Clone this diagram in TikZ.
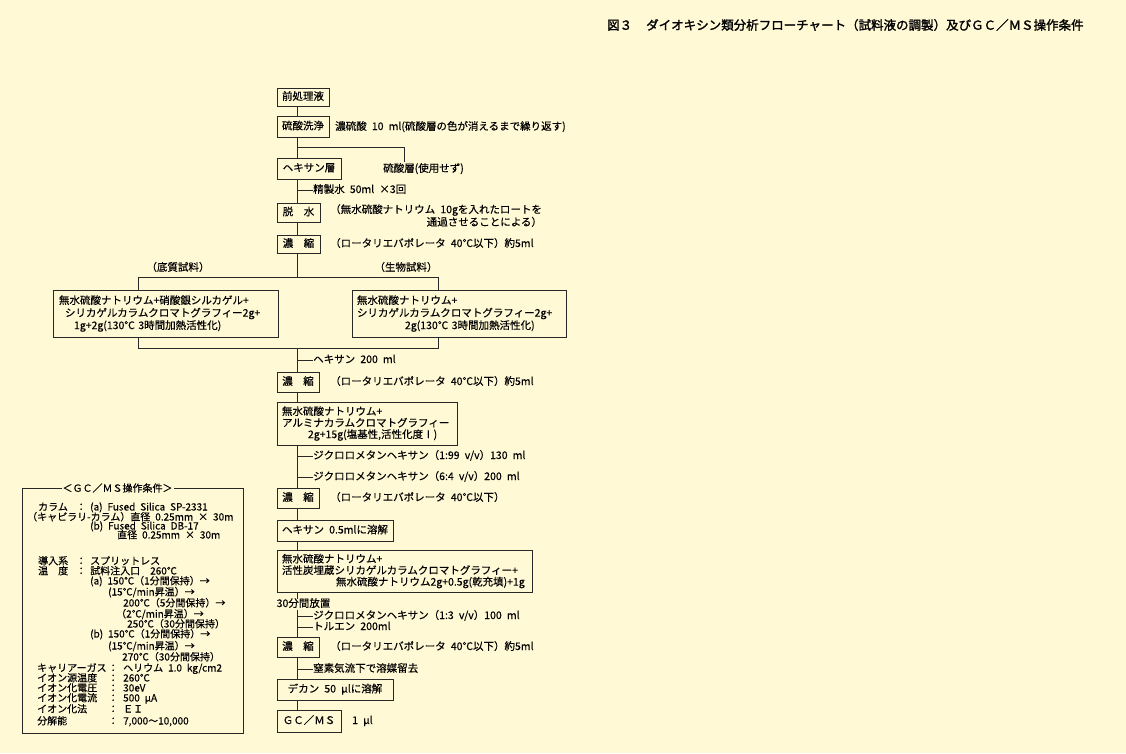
\documentclass[tikz,border=0pt]{standalone}
\usepackage{fontspec}
\setmainfont[WordSpace=2.2, FakeBold=0.3]{Noto Sans CJK JP}
\newfontfamily\titlefont[FakeBold=1.6]{Noto Sans CJK JP}
\definecolor{bg}{RGB}{255,249,214}
\definecolor{lc}{RGB}{40,40,40}
\newcommand{\fsm}{\fontsize{10.5}{11.5}\selectfont}
\newcommand{\fsg}{\fontsize{10}{10}\selectfont}
\newcommand{\fst}{\titlefont\fontsize{12.5}{13}\selectfont}
\tikzset{
 ln/.style={draw=lc, line width=0.8pt},
 bx/.style={draw=lc, line width=0.8pt, inner sep=0pt, font=\fsm, text height=8pt, text depth=2pt},
 mbx/.style={draw=lc, line width=0.8pt, inner sep=0pt, align=left},
 lbl/.style={inner sep=0pt, font=\fsm, anchor=west, text height=8pt, text depth=2pt},
 glbl/.style={inner sep=0pt, font=\fsg, anchor=west, text height=7pt, text depth=2pt},
}
\begin{document}
\begin{tikzpicture}[x=1pt,y=-1pt]
\fill[bg] (0,0) rectangle (1126,753);
\useasboundingbox (0,0) rectangle (1126,753);

% title
\node[anchor=west, inner sep=0pt, font=\fst] (title) at (607,25) {図３\hspace{14pt}ダイオキシン類分析フローチャート（試料液の調製）及びＧＣ／ＭＳ操作条件};

% main column reference
\coordinate (mx) at (297.5,0);

% boxes
\node[bx, minimum width=52pt, minimum height=18pt] (pre) at (303,97) {前処理液};
\node[bx, minimum width=52pt, minimum height=21pt] (sen) at (303,126.5) {硫酸洗浄};
\node[bx, minimum width=64pt, minimum height=21pt] (hex) at (309,168.5) {ヘキサン層};
\node[bx, minimum width=43pt, minimum height=19pt] (dehyd) at (298.5,212.5) {脱　水};
\node[bx, minimum width=43pt, minimum height=18pt] (conc1) at (298.5,244) {濃　縮};

\node[mbx, font=\fontsize{10.5}{12.5}\selectfont, minimum width=225pt, text width=225pt, minimum height=47pt] (L) at (165.5,313.5)
 {\hspace*{6pt}無水硫酸ナトリウム+硝酸銀シルカゲル+\\\hspace*{12pt}シリカゲルカラムクロマトグラフィー2g+\\\hspace*{21pt}1g+2g(130℃ 3時間加熱活性化)};
\node[mbx, font=\fontsize{10.5}{12.5}\selectfont, minimum width=214pt, text width=214pt, minimum height=47pt] (R) at (459,313.5)
 {\hspace*{5pt}無水硫酸ナトリウム+\\\hspace*{5pt}シリカゲルカラムクロマトグラフィー2g+\\\hspace*{53pt}2g(130℃ 3時間加熱活性化)};

\node[bx, minimum width=42pt, minimum height=20pt] (conc2) at (298,382) {濃　縮};
\node[mbx, font=\fontsize{10.5}{11.5}\selectfont, minimum width=180pt, text width=180pt, minimum height=43pt] (alum) at (367,423.5)
 {\hspace*{5pt}無水硫酸ナトリウム+\\\hspace*{5pt}アルミナカラムクロマトグラフィー\\\hspace*{31pt}2g+15g(塩基性,活性化度Ⅰ)};
\node[bx, minimum width=42pt, minimum height=20pt] (conc3) at (298,498) {濃　縮};
\node[bx, minimum width=116pt, minimum height=21pt] (hex05) at (335,530.5) {ヘキサン 0.5mlに溶解};
\node[mbx, font=\fontsize{10.5}{11.5}\selectfont, minimum width=255pt, text width=255pt, minimum height=42pt] (carbon) at (404.5,571)
 {\hspace*{5pt}無水硫酸ナトリウム+\\\hspace*{5pt}活性炭埋蔵シリカゲルカラムクロマトグラフィー+\\\hspace*{59pt}無水硫酸ナトリウム2g+0.5g(乾充填)+1g};
\node[bx, minimum width=42pt, minimum height=20pt] (conc4) at (298,647) {濃　縮};
\node[bx, minimum width=116pt, minimum height=21pt] (decane) at (335,689.5) {デカン 50 μlに溶解};
\node[bx, minimum width=64pt, minimum height=22pt] (gcms) at (309,721) {ＧＣ／ＭＳ};

% main connectors
\draw[ln] (pre.south -| mx) -- (sen.north -| mx);
\draw[ln] (sen.south -| mx) -- (hex.north -| mx);
\coordinate (sby) at (0,147);
\coordinate (sb) at (404,162);
\draw[ln] (sby -| mx) -| (sb);
\draw[ln] (hex.south -| mx) -- (dehyd.north -| mx);
\draw[ln] (dehyd.south -| mx) -- (conc1.north -| mx);

\coordinate (bt) at (297.5,277);
\coordinate (bb) at (297.5,348.5);
\coordinate (lx) at (138.5,0);
\coordinate (rx) at (438,0);
\draw[ln] (conc1.south -| mx) -- (bt);
\draw[ln] (L.north -| lx) |- (bt -| rx) -- (R.north -| rx);
\draw[ln] (L.south -| lx) |- (bb -| rx) -- (R.south -| rx);
\draw[ln] (bb) -- (conc2.north -| mx);
\draw[ln] (conc2.south -| mx) -- (alum.north -| mx);
\draw[ln] (alum.south -| mx) -- (conc3.north -| mx);
\draw[ln] (conc3.south -| mx) -- (hex05.north -| mx);
\draw[ln] (hex05.south -| mx) -- (carbon.north -| mx);
\draw[ln] (carbon.south -| mx) -- (conc4.north -| mx);
\draw[ln] (conc4.south -| mx) -- (decane.north -| mx);
\draw[ln] (decane.south -| mx) -- (gcms.north -| mx);

% side texts
\node[lbl] (t1) at (335,127) {濃硫酸 10 ml(硫酸層の色が消えるまで繰り返す)};
\node[lbl] (t2) at (383,169) {硫酸層(使用せず)};
\node[lbl] (t3) at (313,190) {精製水 50ml ×3回};
\draw[ln] (t3.west -| mx) -- (t3.west);
\node[inner sep=0pt, anchor=north west, align=right, font=\fontsize{10.5}{11}\selectfont] (t4) at (330,204)
 {（無水硫酸ナトリウム 10gを入れたロートを\\通過させることによる）};
\node[lbl] (t5) at (330,244) {（ロータリエバポレータ 40℃以下）約5ml};
\node[inner sep=0pt, font=\fsm] (sl) at (178,267) {（底質試料）};
\node[inner sep=0pt, font=\fsm] (sr) at (406,267) {（生物試料）};
\node[lbl] (t6) at (313,360) {ヘキサン 200 ml};
\draw[ln] (t6.west -| mx) -- (t6.west);
\node[lbl] (t7) at (330,382) {（ロータリエバポレータ 40℃以下）約5ml};
\node[lbl] (t8) at (313,456) {ジクロロメタンヘキサン（1:99 v/v）130 ml};
\draw[ln] (t8.west -| mx) -- (t8.west);
\node[lbl] (t9) at (313,477) {ジクロロメタンヘキサン（6:4 v/v）200 ml};
\draw[ln] (t9.west -| mx) -- (t9.west);
\node[lbl] (t10) at (330,498) {（ロータリエバポレータ 40℃以下）};
\node[lbl, fill=bg, inner sep=0.5pt] (t30) at (276,604) {30分間放置};
\node[lbl] (t11) at (313,616) {ジクロロメタンヘキサン（1:3 v/v）100 ml};
\draw[ln] (t11.west -| mx) -- (t11.west);
\node[lbl] (t12) at (313,627) {トルエン 200ml};
\draw[ln] (t12.west -| mx) -- (t12.west);
\node[lbl] (t13) at (330,647) {（ロータリエバポレータ 40℃以下）約5ml};
\node[lbl] (t14) at (313,669) {窒素気流下で溶媒留去};
\draw[ln] (t14.west -| mx) -- (t14.west);
\node[lbl] (t15) at (352,721) {1 μl};

% GC/MS conditions box
\node[draw=lc, line width=0.8pt, inner sep=0pt, minimum width=221pt, minimum height=245pt] (gcbox) at (132.5,610.5) {};
\node[inner sep=1pt, fill=bg, font=\fontsize{10}{10}\selectfont] (gct) at (117.5,488) {＜ＧＣ／ＭＳ操作条件＞};
\node[glbl] (g1) at (38,508) {\makebox[38pt][l]{カラム}\makebox[14pt][l]{：}(a) Fused Silica SP-2331};
\node[glbl] (g2) at (27,518) {（キャピラリ-カラム）直径 0.25mm × 30m};
\node[glbl] (g3) at (90,527) {(b) Fused Silica DB-17};
\node[glbl] (g4) at (117,536) {直径 0.25mm × 30m};
\node[glbl] (g5) at (38,562) {\makebox[38pt][l]{導入系}\makebox[14pt][l]{：}スプリットレス};
\node[glbl] (g6) at (38,572) {\makebox[38pt][l]{温\hspace{10pt}度}\makebox[14pt][l]{：}試料注入口　260℃};
\node[glbl] (g7) at (90,582) {(a) 150℃（1分間保持）→};
\node[glbl] (g8) at (108,593) {(15℃/min昇温）→};
\node[glbl] (g9) at (123,604) {200℃（5分間保持）→};
\node[glbl] (g10) at (116,615) {（2℃/min昇温）→};
\node[glbl] (g11) at (127,625) {250℃（30分間保持）};
\node[glbl] (g12) at (90,635) {(b) 150℃（1分間保持）→};
\node[glbl] (g13) at (108,647) {(15℃/min昇温）→};
\node[glbl] (g14) at (122,658) {270℃（30分間保持）};
\node[glbl] (g15) at (37,669) {\makebox[71pt][l]{キャリアーガス}\makebox[15pt][l]{：}ヘリウム 1.0 kg/cm2};
\node[glbl] (g16) at (37,679) {\makebox[71pt][l]{イオン源温度}\makebox[15pt][l]{：}260℃};
\node[glbl] (g17) at (37,689) {\makebox[71pt][l]{イオン化電圧}\makebox[15pt][l]{：}30eV};
\node[glbl] (g18) at (37,699) {\makebox[71pt][l]{イオン化電流}\makebox[15pt][l]{：}500 μA};
\node[glbl] (g19) at (37,710) {\makebox[71pt][l]{イオン化法}\makebox[15pt][l]{：}ＥＩ};
\node[glbl] (g20) at (37,722) {\makebox[71pt][l]{分解能}\makebox[15pt][l]{：}7,000〜10,000};
\end{tikzpicture}
\end{document}
